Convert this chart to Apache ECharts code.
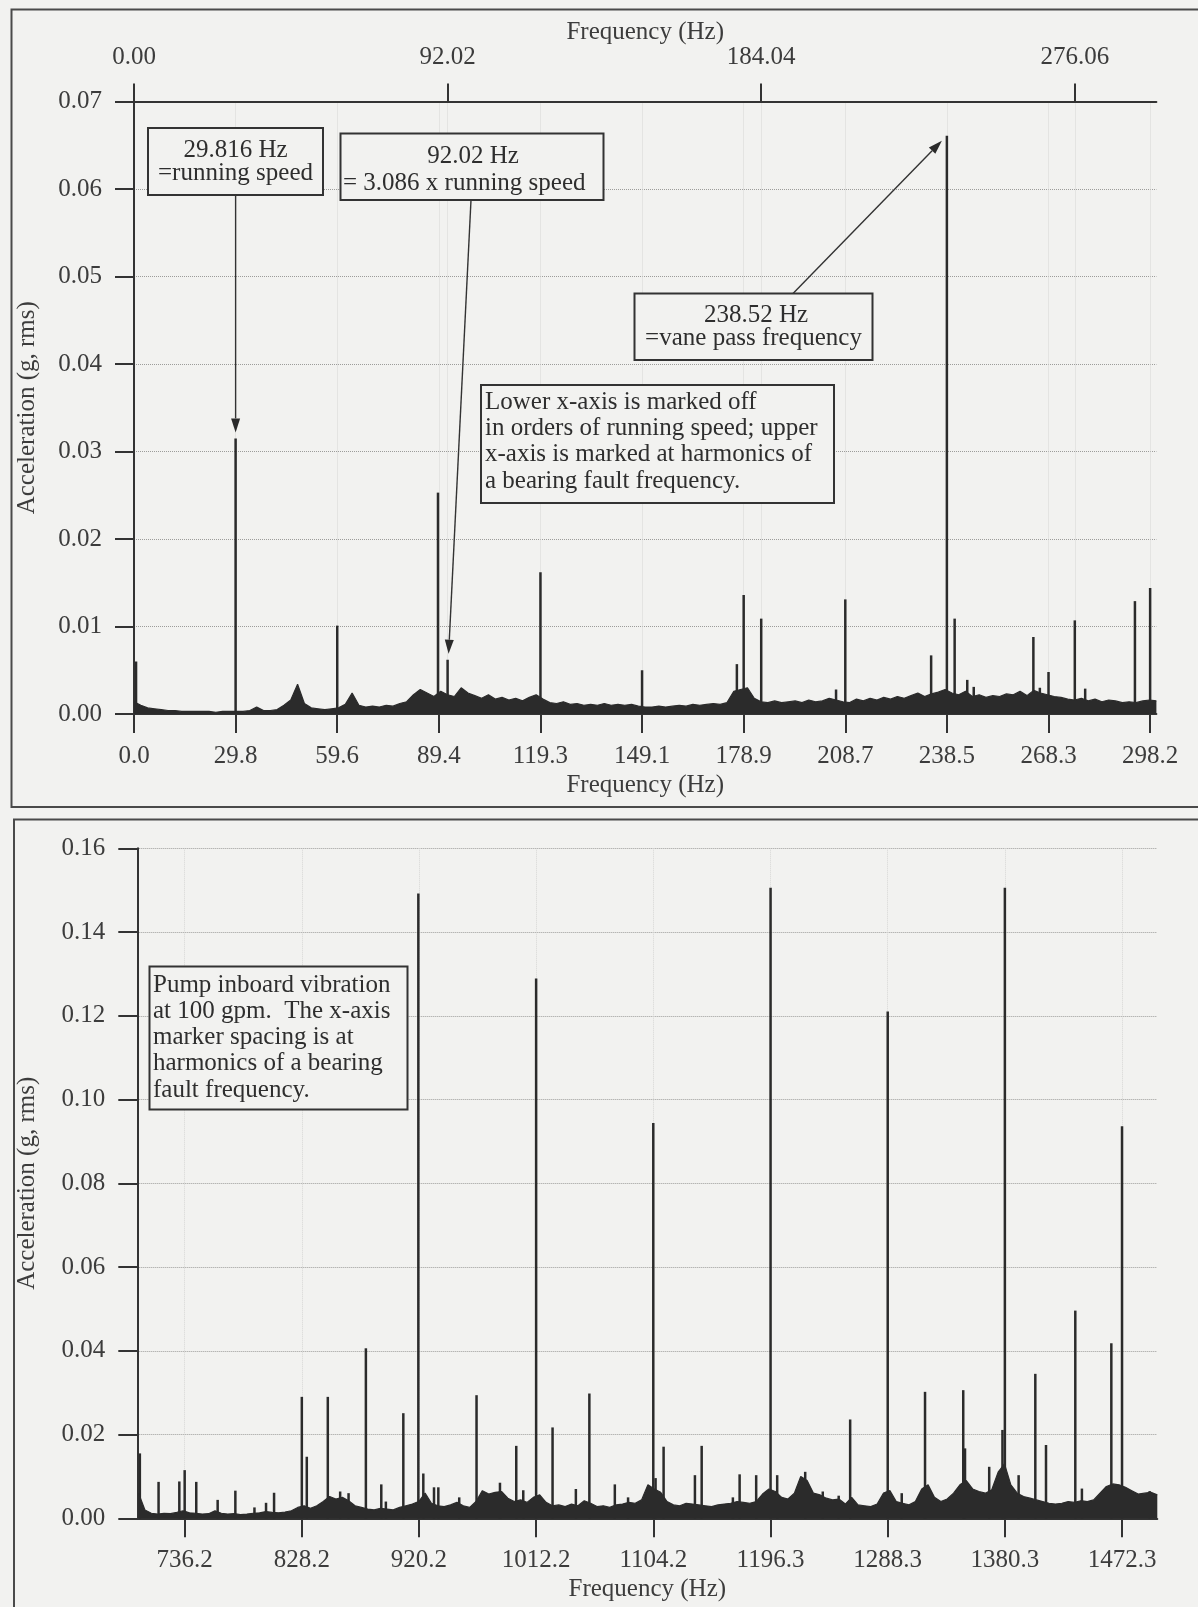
<!DOCTYPE html>
<html>
<head>
<meta charset="utf-8">
<script src="https://cdn.jsdelivr.net/npm/echarts@6/dist/echarts.min.js"></script>
<style>
  html, body { margin: 0; padding: 0; background: #f2f2f0; }
  #chart { width: 1198px; height: 1607px; }
</style>
</head>
<body>
<div id="chart"></div>
<script>
// ---------- Upper spectrum, 0–300 Hz ----------
// lower x-axis: orders of running speed (29.816 Hz)
const runningSpeedTicksHz = [0, 29.816, 59.632, 89.448, 119.264, 149.08, 178.896, 208.712, 238.528, 268.344, 298.16];
// upper x-axis: harmonics of the bearing fault frequency (92.02 Hz)
const bearingTicksUpperHz = [0, 92.02, 184.04, 276.06];
const upperAccelTicks = [0, 0.01, 0.02, 0.03, 0.04, 0.05, 0.06, 0.07];

// discrete spectral lines [Hz, g rms]
const upperSpikes = [
  [0.6, 0.0060], [29.816, 0.0315], [59.632, 0.0101], [89.2, 0.0253], [92.02, 0.0062],
  [119.264, 0.0162], [149.08, 0.0050], [176.9, 0.0057], [178.896, 0.0136], [184.04, 0.0109],
  [206.0, 0.0028], [208.712, 0.0131], [233.9, 0.0067], [238.52, 0.0661], [240.8, 0.0109],
  [244.5, 0.0039], [246.4, 0.0031], [263.9, 0.0088], [265.8, 0.0030], [268.344, 0.0048],
  [276.06, 0.0107], [279.1, 0.0029], [293.7, 0.0129], [298.16, 0.0144]
];

// broadband floor, sampled every 2 Hz from 0 Hz
const upperNoiseStartHz = 0;
const upperNoiseStepHz = 2;
const upperNoise = [
  0.0014, 0.0010, 0.0007, 0.0006, 0.0005, 0.0004, 0.0004, 0.0003, 0.0003, 0.0003,
  0.0003, 0.0003, 0.0002, 0.0003, 0.0003, 0.0003, 0.0003, 0.0004, 0.0008, 0.0004,
  0.0004, 0.0005, 0.0010, 0.0016, 0.0034, 0.0012, 0.0007, 0.0006, 0.0005, 0.0006,
  0.0007, 0.0011, 0.0024, 0.0010, 0.0008, 0.0009, 0.0008, 0.0010, 0.0009, 0.0012,
  0.0014, 0.0022, 0.0028, 0.0024, 0.0020, 0.0026, 0.0022, 0.0020, 0.0030, 0.0024,
  0.0021, 0.0018, 0.0022, 0.0017, 0.0019, 0.0016, 0.0018, 0.0015, 0.0019, 0.0022,
  0.0017, 0.0013, 0.0012, 0.0014, 0.0011, 0.0012, 0.0010, 0.0011, 0.0010, 0.0012,
  0.0010, 0.0011, 0.0010, 0.0011, 0.0009, 0.0008, 0.0008, 0.0009, 0.0008, 0.0009,
  0.0010, 0.0009, 0.0011, 0.0010, 0.0011, 0.0012, 0.0011, 0.0013, 0.0026, 0.0028,
  0.0030, 0.0018, 0.0014, 0.0013, 0.0015, 0.0013, 0.0014, 0.0015, 0.0013, 0.0016,
  0.0014, 0.0015, 0.0018, 0.0016, 0.0014, 0.0013, 0.0017, 0.0015, 0.0018, 0.0016,
  0.0019, 0.0017, 0.0020, 0.0018, 0.0021, 0.0024, 0.0020, 0.0023, 0.0025, 0.0028,
  0.0024, 0.0022, 0.0026, 0.0020, 0.0022, 0.0019, 0.0021, 0.0020, 0.0023, 0.0022,
  0.0026, 0.0021, 0.0027, 0.0024, 0.0022, 0.0020, 0.0019, 0.0017, 0.0016, 0.0018,
  0.0015, 0.0017, 0.0014, 0.0016, 0.0015, 0.0013, 0.0014, 0.0013, 0.0015, 0.0016,
  0.0015
];

// ---------- Lower spectrum, 700–1500 Hz ----------
const bearingTicksLowerHz = [736.16, 828.18, 920.20, 1012.22, 1104.24, 1196.26, 1288.28, 1380.30, 1472.32];
const lowerAccelTicks = [0, 0.02, 0.04, 0.06, 0.08, 0.10, 0.12, 0.14, 0.16];

const lowerSpikes = [
  [701.0, 0.0155], [715.7, 0.0087], [732.0, 0.0088], [736.2, 0.0115], [745.3, 0.0087],
  [762.1, 0.0044], [776.0, 0.0066], [791.0, 0.0026], [800.1, 0.0037], [806.4, 0.0061],
  [828.2, 0.0290], [832.1, 0.0147], [848.6, 0.0290], [858.3, 0.0064], [864.9, 0.0060],
  [878.5, 0.0406], [890.6, 0.0081], [894.2, 0.0040], [907.9, 0.0251], [919.7, 0.1492],
  [923.6, 0.0107], [932.0, 0.0074], [935.4, 0.0074], [951.8, 0.0050], [965.4, 0.0294],
  [983.8, 0.0085], [996.6, 0.0173], [1002.1, 0.0067], [1012.2, 0.1289], [1025.1, 0.0217],
  [1043.4, 0.0070], [1054.0, 0.0298], [1074.0, 0.0081], [1084.4, 0.0050], [1104.2, 0.0944],
  [1106.0, 0.0096], [1112.3, 0.0171], [1136.9, 0.0103], [1142.2, 0.0173], [1166.7, 0.0050],
  [1172.0, 0.0105], [1185.0, 0.0103], [1196.3, 0.1506], [1201.5, 0.0103], [1223.5, 0.0111],
  [1237.3, 0.0064], [1249.8, 0.0054], [1258.8, 0.0236], [1288.3, 0.1210], [1299.3, 0.0060],
  [1317.6, 0.0302], [1347.6, 0.0306], [1349.0, 0.0167], [1368.0, 0.0123], [1378.4, 0.0211],
  [1380.3, 0.1506], [1391.1, 0.0103], [1404.2, 0.0345], [1412.6, 0.0175], [1435.6, 0.0496],
  [1440.8, 0.0071], [1463.9, 0.0418], [1472.3, 0.0936], [1494.0, 0.0065]
];

// broadband floor, sampled every 5 Hz from 700 Hz
const lowerNoiseStartHz = 700;
const lowerNoiseStepHz = 5;
const lowerNoise = [
  0.0060, 0.0020, 0.0012, 0.0010, 0.0012, 0.0011, 0.0014, 0.0018, 0.0013, 0.0012,
  0.0010, 0.0011, 0.0018, 0.0012, 0.0010, 0.0011, 0.0009, 0.0010, 0.0012, 0.0013,
  0.0016, 0.0014, 0.0013, 0.0015, 0.0018, 0.0026, 0.0030, 0.0024, 0.0030, 0.0040,
  0.0052, 0.0046, 0.0050, 0.0042, 0.0030, 0.0026, 0.0022, 0.0020, 0.0024, 0.0022,
  0.0020, 0.0026, 0.0030, 0.0034, 0.0040, 0.0060, 0.0036, 0.0030, 0.0028, 0.0032,
  0.0038, 0.0030, 0.0026, 0.0040, 0.0066, 0.0058, 0.0062, 0.0064, 0.0048, 0.0040,
  0.0044, 0.0038, 0.0050, 0.0056, 0.0038, 0.0030, 0.0032, 0.0028, 0.0034, 0.0030,
  0.0042, 0.0036, 0.0028, 0.0030, 0.0026, 0.0032, 0.0034, 0.0038, 0.0036, 0.0044,
  0.0080, 0.0070, 0.0062, 0.0040, 0.0032, 0.0030, 0.0036, 0.0034, 0.0032, 0.0030,
  0.0028, 0.0032, 0.0034, 0.0036, 0.0040, 0.0038, 0.0036, 0.0040, 0.0058, 0.0070,
  0.0064, 0.0050, 0.0046, 0.0060, 0.0100, 0.0090, 0.0060, 0.0056, 0.0048, 0.0044,
  0.0046, 0.0034, 0.0050, 0.0032, 0.0030, 0.0028, 0.0034, 0.0060, 0.0066, 0.0040,
  0.0036, 0.0032, 0.0040, 0.0070, 0.0080, 0.0050, 0.0040, 0.0046, 0.0060, 0.0080,
  0.0090, 0.0070, 0.0064, 0.0060, 0.0068, 0.0110, 0.0130, 0.0080, 0.0060, 0.0052,
  0.0048, 0.0044, 0.0040, 0.0036, 0.0034, 0.0036, 0.0040, 0.0038, 0.0042, 0.0040,
  0.0044, 0.0060, 0.0076, 0.0082, 0.0080, 0.0074, 0.0066, 0.0058, 0.0060, 0.0062,
  0.0056
];

// ---------- annotation text ----------
const noteRunning = ['29.816 Hz', '=running speed'];
const noteBearing = ['92.02 Hz', '= 3.086 x running speed'];
const noteVane = ['238.52 Hz', '=vane pass frequency'];
const noteAxes = ['Lower x-axis is marked off', 'in orders of running speed; upper',
                  'x-axis is marked at harmonics of', 'a bearing fault frequency.'];
const notePump = ['Pump inboard vibration', 'at 100 gpm.  The x-axis', 'marker spacing is at',
                  'harmonics of a bearing', 'fault frequency.'];

// ---------- styling ----------
const SERIF = '"Liberation Serif", "Times New Roman", serif';
const INK = '#2b2b2b';
const TEXT = '#3c3c3c';
const FS = 25;

function noisePairs(start, step, vals) {
  return vals.map((v, i) => [start + i * step, v]);
}

const labelStyle = { fontFamily: SERIF, fontSize: FS, color: TEXT };
const nameStyle = { fontFamily: SERIF, fontSize: FS, color: TEXT };
const axisLineStyle = { show: true, onZero: false, lineStyle: { color: '#333', width: 2 } };

function xAxisCfg(grid, pos, min, max, ticks, digits, margin, nameGap, tickLen) {
  return {
    type: 'value', gridIndex: grid, position: pos, min: min, max: max,
    axisLine: axisLineStyle,
    axisTick: { show: true, inside: false, length: tickLen, customValues: ticks,
                lineStyle: { color: '#333', width: 2 } },
    axisLabel: Object.assign({ customValues: ticks, margin: margin,
                formatter: v => Number(v).toFixed(digits) }, labelStyle),
    splitLine: { show: true, lineStyle: { color: '#d6d6d4', width: 1, type: 'dotted' } },
    name: 'Frequency (Hz)', nameLocation: 'middle', nameGap: nameGap,
    nameMoveOverlap: false, nameTextStyle: nameStyle
  };
}

function yAxisCfg(grid, max, interval, nameGap) {
  return {
    type: 'value', gridIndex: grid, min: 0, max: max, interval: interval,
    axisLine: axisLineStyle,
    axisTick: { show: true, inside: false, length: 19, lineStyle: { color: '#333', width: 2 } },
    axisLabel: Object.assign({ margin: 32, formatter: v => Number(v).toFixed(2) }, labelStyle),
    splitLine: { show: true, lineStyle: { color: '#9c9c9a', width: 1, type: 'dotted' } },
    name: 'Acceleration (g, rms)', nameLocation: 'middle', nameGap: nameGap, nameRotate: 90,
    nameMoveOverlap: false, nameTextStyle: nameStyle
  };
}

const chart = echarts.init(document.getElementById('chart'), null, { renderer: 'canvas' });

chart.setOption({
  animation: false,
  backgroundColor: '#f2f2f0',
  grid: [
    { left: 134, top: 101.5, width: 1022.4, height: 612.5, outerBoundsMode: 'none', containLabel: false },
    { left: 137.3, top: 848.3, width: 1020, height: 670, outerBoundsMode: 'none', containLabel: false }
  ],
  xAxis: [
    xAxisCfg(0, 'bottom', 0, 300, runningSpeedTicksHz, 1, 30, 59, 19),
    xAxisCfg(0, 'top', 0, 300, bearingTicksUpperHz, 2, 32, 57, 18),
    xAxisCfg(1, 'bottom', 699, 1500, bearingTicksLowerHz, 1, 30, 59, 19)
  ],
  yAxis: [
    yAxisCfg(0, upperAccelTicks[upperAccelTicks.length - 1], 0.01, 94),
    yAxisCfg(1, lowerAccelTicks[lowerAccelTicks.length - 1], 0.02, 97)
  ],
  series: [
    { type: 'line', xAxisIndex: 0, yAxisIndex: 0, symbol: 'none',
      data: noisePairs(upperNoiseStartHz, upperNoiseStepHz, upperNoise),
      lineStyle: { color: INK, width: 1.2 }, areaStyle: { color: INK, opacity: 1 } },
    { type: 'bar', xAxisIndex: 0, yAxisIndex: 0, barWidth: 2.5, data: upperSpikes,
      itemStyle: { color: INK } },
    { type: 'line', xAxisIndex: 2, yAxisIndex: 1, symbol: 'none',
      data: noisePairs(lowerNoiseStartHz, lowerNoiseStepHz, lowerNoise),
      lineStyle: { color: INK, width: 1.2 }, areaStyle: { color: INK, opacity: 1 } },
    { type: 'bar', xAxisIndex: 2, yAxisIndex: 1, barWidth: 2.5, data: lowerSpikes,
      itemStyle: { color: INK } }
  ]
});

// ---------- panel frames, note boxes and arrows ----------
function frame(x, y, w, h) {
  return { type: 'rect', silent: true, z: 0,
           shape: { x: x, y: y, width: w, height: h },
           style: { fill: null, stroke: '#4a4a4a', lineWidth: 2 } };
}
function box(x, y, w, h) {
  return { type: 'rect', silent: true, z: 20,
           shape: { x: x, y: y, width: w, height: h },
           style: { fill: '#f2f2f0', stroke: '#333', lineWidth: 2 } };
}
function label(text, x, y, align) {
  return { type: 'text', silent: true, z: 21,
           style: { text: text, x: x, y: y, align: align || 'left', verticalAlign: 'middle',
                    font: FS + 'px ' + SERIF, fill: '#2e2e2e' } };
}
function arrow(from, to) {
  const dx = to[0] - from[0], dy = to[1] - from[1];
  const len = Math.sqrt(dx * dx + dy * dy);
  const ux = dx / len, uy = dy / len;
  const hl = 14, hw = 4.5;
  const bx = to[0] - ux * hl, by = to[1] - uy * hl;
  return [
    { type: 'line', silent: true, z: 22,
      shape: { x1: from[0], y1: from[1], x2: bx, y2: by },
      style: { stroke: '#333', lineWidth: 1.4 } },
    { type: 'polygon', silent: true, z: 22,
      shape: { points: [[to[0], to[1]], [bx - uy * hw, by + ux * hw], [bx + uy * hw, by - ux * hw]] },
      style: { fill: '#2a2a2a' } }
  ];
}
function spikeTop(spikes, hz, axes) {
  const s = spikes.find(p => Math.abs(p[0] - hz) < 0.01);
  return chart.convertToPixel(axes, s);
}

const upperAxes = { xAxisIndex: 0, yAxisIndex: 0 };
const pRun = spikeTop(upperSpikes, 29.816, upperAxes);
const pBear = spikeTop(upperSpikes, 92.02, upperAxes);
const pVane = spikeTop(upperSpikes, 238.52, upperAxes);

const g = [
  frame(11.5, 9.5, 1220, 797.5),
  frame(14, 819.5, 1220, 820),

  box(148, 128, 175, 67),
  label(noteRunning[0], 235.5, 150, 'center'),
  label(noteRunning[1], 235.5, 173, 'center'),

  box(340.5, 133.5, 263, 66.5),
  label(noteBearing[0], 473, 156.5, 'center'),
  label(noteBearing[1], 343, 183, 'left'),

  box(634.5, 293.5, 238, 66.5),
  label(noteVane[0], 756, 315, 'center'),
  label(noteVane[1], 753.5, 338, 'center'),

  box(481, 385, 353, 118)
];
noteAxes.forEach((t, i) => g.push(label(t, 485, 402 + i * 26.4)));
g.push(box(149.5, 966.5, 258, 143));
notePump.forEach((t, i) => g.push(label(t, 153, 985 + i * 26.3)));

g.push(...arrow([pRun[0], 195], [pRun[0], pRun[1] - 6]));
g.push(...arrow([471, 200], [pBear[0] + 1, pBear[1] - 6]));
g.push(...arrow([793, 293.5], [pVane[0] - 5, pVane[1] + 5]));

chart.setOption({ graphic: g });
</script>
</body>
</html>
